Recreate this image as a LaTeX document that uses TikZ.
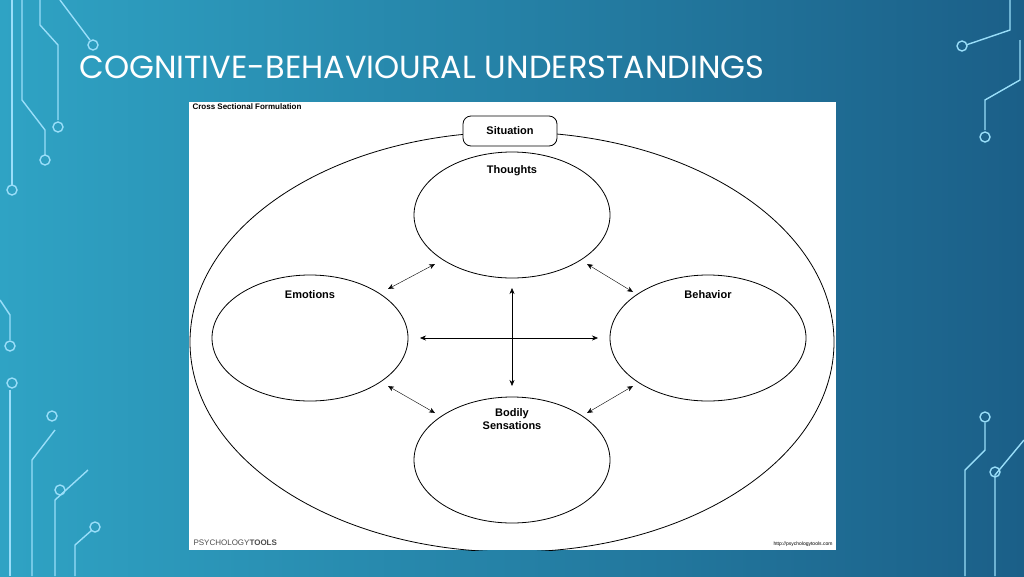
\documentclass[tikz,border=0pt]{standalone}
\usepackage{fontspec}
\setmainfont{Liberation Sans}
\newfontfamily\titlefont{Poppins}
\usetikzlibrary{positioning, shapes.geometric, arrows.meta}
\definecolor{bgleft}{HTML}{2FA3C4}
\definecolor{bgright}{HTML}{1B5F88}
\tikzstyle{zone} = [ellipse, draw, thick, minimum width=196, minimum height=126, inner sep=0pt]
\tikzstyle{lbl} = [font=\bfseries\fontsize{11}{13}\selectfont, align=center]
\tikzstyle{wire} = [draw=cyan!40, line width=1.4pt]
\tikzstyle{pin} = [draw=cyan!40, line width=1.4pt, radius=5]
\tikzstyle{link} = [{Stealth[length=6pt,width=5pt]}-{Stealth[length=6pt,width=5pt]}]

\begin{document}
\begin{tikzpicture}[x=1pt, y=-1pt]
        \useasboundingbox (0, 0) rectangle (1024, 576);
        \shade[left color=bgleft, right color=bgright] (0, 0) rectangle (1024, 576);
        \node[anchor=west, text=white, font=\titlefont\fontsize{32}{36}\selectfont] at (76, 67) (Title) {COGNITIVE-BEHAVIOURAL UNDERSTANDINGS};

        % circuit traces
        \draw[wire] (12, 0) -- (12, 185); \draw[pin] (12, 190) circle;
        \draw[wire] (22, 0) -- (22, 100) -- (45, 130) -- (45, 155); \draw[pin] (45, 160) circle;
        \draw[wire] (40, 0) -- (40, 25) -- (58, 45) -- (58, 120); \draw[pin] (58, 127) circle;
        \draw[wire] (60, 0) -- (90, 40); \draw[pin] (93, 45) circle;
        \draw[wire] (0, 300) -- (10, 315) -- (10, 340); \draw[pin] (10, 346) circle;
        \draw[wire] (10, 576) -- (10, 390); \draw[pin] (12, 383) circle;
        \draw[wire] (32, 576) -- (32, 460) -- (55, 430); \draw[pin] (52, 416) circle;
        \draw[wire] (55, 576) -- (55, 500) -- (88, 470); \draw[pin] (60, 490) circle;
        \draw[wire] (75, 576) -- (75, 545) -- (92, 530); \draw[pin] (95, 527) circle;
        \draw[wire] (1010, 0) -- (1010, 30) -- (966, 45); \draw[pin] (962, 46) circle;
        \draw[wire] (1020, 40) -- (1020, 80) -- (985, 100) -- (985, 130); \draw[pin] (985, 137) circle;
        \draw[wire] (1024, 440) -- (995, 475) -- (995, 576); \draw[pin] (995, 472) circle;
        \draw[wire] (985, 423) -- (985, 450) -- (965, 470) -- (965, 576); \draw[pin] (985, 417) circle;

        % formulation
        \fill[white] (189, 102) rectangle (836, 550);
        \node[anchor=west, font=\bfseries\fontsize{8}{9}\selectfont] at (189, 107) (Heading) {Cross Sectional Formulation};
        \begin{scope}
            \clip (189, 102) rectangle (836, 550);
            \draw[thick] (512, 342) ellipse (322 and 210);
        \end{scope}
        \node[draw, thick, fill=white, rounded corners=8, minimum width=94, minimum height=30, lbl] at (510, 131) (Situation) {Situation};
        \node[zone] at (512, 215) (Thoughts) {};
        \node[zone] at (310, 338) (Emotions) {};
        \node[zone] at (708, 338) (Behavior) {};
        \node[zone] at (512, 460) (Bodily) {};
        \node[lbl] at (512, 171) (ThoughtsText) {Thoughts};
        \node[lbl] at (310, 295) (EmotionsText) {Emotions};
        \node[lbl] at (708, 295) (BehaviorText) {Behavior};
        \node[lbl] at (512, 419) (BodilyText) {Bodily\\Sensations};

        \coordinate (A1) at (435, 264); \coordinate (A2) at (388, 289);
        \coordinate (B1) at (587, 264); \coordinate (B2) at (633, 292);
        \coordinate (C1) at (388, 386); \coordinate (C2) at (435, 413);
        \coordinate (D1) at (633, 386); \coordinate (D2) at (587, 413);
        \coordinate (H1) at (420, 338); \coordinate (H2) at (598, 338);
        \coordinate (V1) at (512, 288); \coordinate (V2) at (512, 386);
        \draw[link] (A1) -- (A2);
        \draw[link] (B1) -- (B2);
        \draw[link] (C1) -- (C2);
        \draw[link] (D1) -- (D2);
        \draw[link] (H1) -- (H2);
        \draw[link] (V1) -- (V2);

        \node[anchor=west, font=\fontsize{8}{9}\selectfont, text=black!70] at (190, 543) (Brand) {PSYCHOLOGY\textbf{TOOLS}};
        \node[anchor=east, font=\fontsize{5}{6}\selectfont] at (836, 544) (Url) {http://psychologytools.com};
    \end{tikzpicture}
\end{document}
